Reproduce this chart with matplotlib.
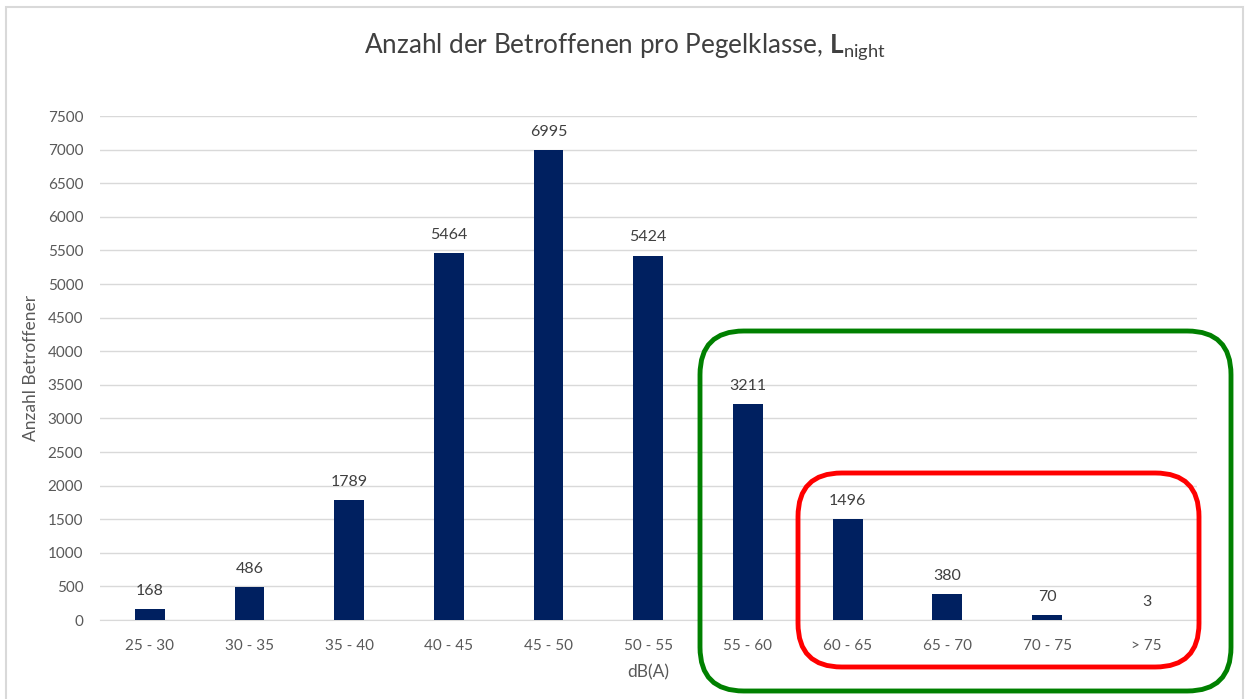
import matplotlib.pyplot as plt
import numpy as np
from matplotlib.patches import FancyBboxPatch, Rectangle

plt.rcParams['font.family'] = ['Lato', 'DejaVu Sans']
plt.rcParams['mathtext.fontset'] = 'custom'
plt.rcParams['mathtext.rm'] = 'Lato'
plt.rcParams['mathtext.bf'] = 'Lato:bold'

# Daten
klassen = ['25 - 30', '30 - 35', '35 - 40', '40 - 45', '45 - 50', '50 - 55',
           '55 - 60', '60 - 65', '65 - 70', '70 - 75', '> 75']
betroffene = [168, 486, 1789, 5464, 6995, 5424, 3211, 1496, 380, 70, 3]
yticks = np.arange(0, 7501, 500)

fig = plt.figure(figsize=(12.49, 6.99), dpi=100)
ax = fig.add_axes([0.080, 0.113, 0.878, 0.721])

x = np.arange(len(klassen))
ax.bar(x, betroffene, width=0.3, color='#002060', zorder=3)
for xi, v in zip(x, betroffene):
    ax.annotate(str(v), (xi, v), xytext=(0, 8), textcoords='offset points',
                ha='center', va='bottom', fontsize=11.5, color='#404040')

ax.set_xlim(-0.5, len(klassen) - 0.5)
ax.set_ylim(0, 7500)
ax.set_yticks(yticks)
ax.set_xticks(x)
ax.set_xticklabels(klassen)
ax.tick_params(axis='both', length=0, labelsize=11, colors='#595959', pad=14)
ax.tick_params(axis='y', pad=12)
ax.grid(axis='y', color='#d9d9d9', linewidth=1, zorder=0)
for s in ['top', 'right', 'left']:
    ax.spines[s].set_visible(False)
ax.spines['bottom'].set_color('#d9d9d9')

ax.set_ylabel('Anzahl Betroffener', fontsize=12.5, color='#595959', labelpad=6)
ax.set_xlabel('dB(A)', fontsize=12.5, color='#595959', labelpad=8)

fig.text(0.5, 0.933, r'Anzahl der Betroffenen pro Pegelklasse, $\mathbf{L}_{\mathrm{night}}$',
         ha='center', va='center', fontsize=18.8, color='#404040')

# Rahmen um das Diagramm
fig.patches.append(Rectangle((0.005, -0.01), 0.99, 1.0, transform=fig.transFigure,
                             fill=False, edgecolor='#d9d9d9', linewidth=1.5))

# Markierungen
W, H = 1249, 699
def box(x0, y0, x1, y1, color):
    p = FancyBboxPatch((x0 / W, 1 - y1 / H), (x1 - x0) / W, (y1 - y0) / H,
                       boxstyle='round,pad=0,rounding_size=0.035',
                       mutation_aspect=W / H,
                       transform=fig.transFigure, fill=False,
                       edgecolor=color, linewidth=3.5, zorder=10)
    fig.patches.append(p)

box(700, 331, 1231, 691, '#008000')
box(798, 473, 1199, 667, '#ff0000')

fig.savefig('out.png', dpi=100)
